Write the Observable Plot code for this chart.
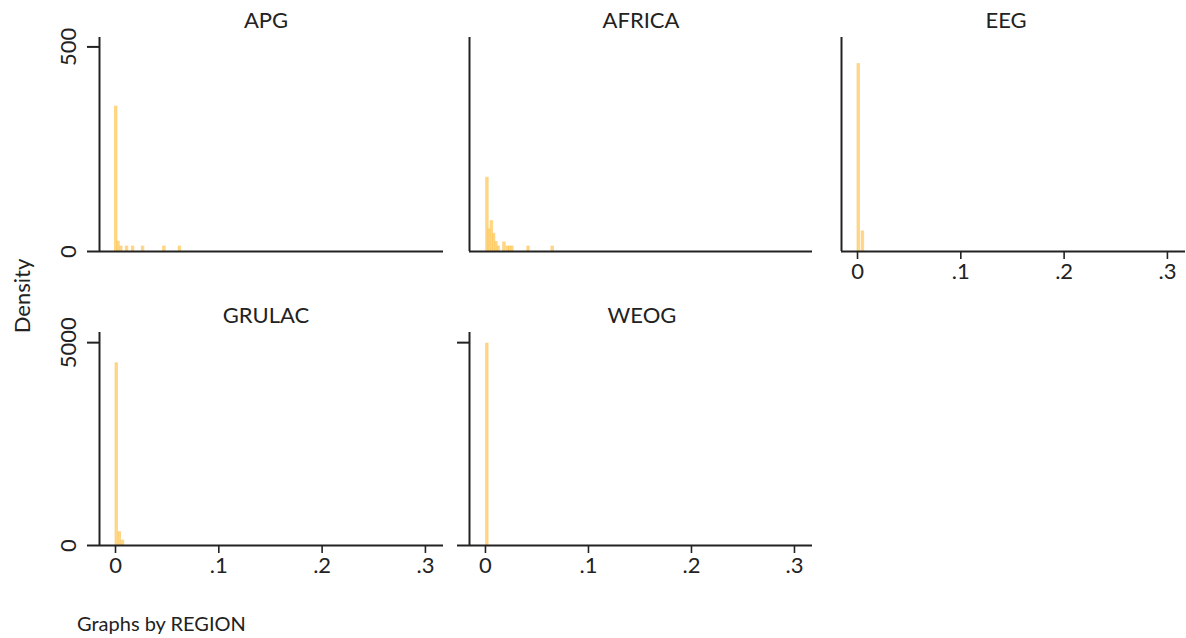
<!DOCTYPE html>
<html><head><meta charset="utf-8">
<script src="https://cdn.jsdelivr.net/npm/d3@7"></script>
<script src="https://cdn.jsdelivr.net/npm/@observablehq/plot@0.6"></script>
<style>
body{margin:0;background:#fff;}
#chart{position:relative;width:1186px;height:638px;overflow:hidden;font-family:Lato,"Open Sans",sans-serif;color:#222;}
.panel{position:absolute;}
.ptitle{position:absolute;font-size:22px;line-height:22px;transform:translateX(-50%);white-space:nowrap;}
.ylab{position:absolute;font-size:22px;line-height:22px;white-space:nowrap;transform:translate(-50%,-50%) rotate(-90deg);}
.note{position:absolute;font-size:20px;line-height:20px;white-space:nowrap;}
</style></head><body><div id="chart"></div>
<script>
// ---- data (bin midpoints and densities) ----
const regions = ["APG", "AFRICA", "EEG", "GRULAC", "WEOG"];
const apgMid     = [0.0007, 0.0029, 0.0056, 0.0112, 0.0170, 0.0267, 0.0473, 0.0623];
const apgDensity = [354, 24, 12, 12, 12, 12, 12, 12];
const africaMid     = [0.0019, 0.0038, 0.0062, 0.0084, 0.0106, 0.0128, 0.0184, 0.0217, 0.0239, 0.0261, 0.0418, 0.0653];
const africaDensity = [180, 54, 74, 43, 23, 12, 22, 12, 12, 12, 12, 12];
const eegMid     = [0.0012, 0.0052];
const eegDensity = [458, 49];
const grulacMid     = [0.0012, 0.0041, 0.0072];
const grulacDensity = [4490, 328, 123];
const weogMid     = [0.0018];
const weogDensity = [4975];
const binWidth = 0.0024;
const xTicks = [0, 0.1, 0.2, 0.3];
const xTickLabels = ["0", ".1", ".2", ".3"];
const yTicksTop = [0, 500];
const yTicksBottom = [0, 5000];
const xDomain = [-0.0155, 0.3175];
const yDomainTop = [0, 523];
const yDomainBottom = [0, 5250];
const yTitle = "Density";
const note = "Graphs by REGION";

const mids = [apgMid, africaMid, eegMid, grulacMid, weogMid];
const dens = [apgDensity, africaDensity, eegDensity, grulacDensity, weogDensity];

// ---- layout ----
const panels = [
  {left: 99,  top: 37,  w: 344, h: 214, yDomain: yDomainTop,    yTicks: yTicksTop,    yAxis: "labels", xAxis: false, tx: 266},
  {left: 469, top: 37,  w: 343, h: 214, yDomain: yDomainTop,    yTicks: yTicksTop,    yAxis: "none",   xAxis: false, tx: 641},
  {left: 841, top: 37,  w: 344, h: 214, yDomain: yDomainTop,    yTicks: yTicksTop,    yAxis: "none",   xAxis: true,  tx: 1006},
  {left: 99,  top: 332, w: 344, h: 213, yDomain: yDomainBottom, yTicks: yTicksBottom, yAxis: "labels", xAxis: true,  tx: 266},
  {left: 469, top: 332, w: 343, h: 213, yDomain: yDomainBottom, yTicks: yTicksBottom, yAxis: "ticks",  xAxis: true,  tx: 642}
];
const titleTops = [9, 9, 9, 304, 304];

const chart = document.getElementById("chart");
const ML = 70, MR = 1, MT = 2, MB = 42;
const ink = "#222";
const barColor = "#FFC85A";

regions.forEach((name, i) => {
  const p = panels[i];
  const data = mids[i].map((m, j) => ({region: name, x1: m - binWidth / 2, x2: m + binWidth / 2, density: dens[i][j]}));
  const marks = [
    Plot.rect(data, {x1: "x1", x2: "x2", y1: 0, y2: "density", fill: barColor, fillOpacity: 0.7, stroke: barColor, strokeOpacity: 0.6, strokeWidth: 1}),
    Plot.ruleY([0], {stroke: ink, strokeWidth: 2}),
    Plot.ruleX([xDomain[0]], {stroke: ink, strokeWidth: 2})
  ];
  if (p.yAxis !== "none") {
    marks.push(Plot.axisY(p.yTicks, {
      label: null,
      tickSize: 12, tickRotate: -90, tickPadding: 12, fontSize: 22,
      stroke: ink, strokeWidth: 2,
      tickFormat: p.yAxis === "labels" ? (d => String(d)) : (() => "")
    }));
  }
  if (p.xAxis) {
    marks.push(Plot.axisX(xTicks, {
      label: null,
      tickSize: 8, tickPadding: 4, fontSize: 22, stroke: ink, strokeWidth: 1.6,
      tickFormat: d => xTickLabels[xTicks.indexOf(d)]
    }));
  }
  const svg = Plot.plot({
    width: p.w + ML + MR,
    height: p.h + MT + MB,
    marginLeft: ML, marginRight: MR, marginTop: MT, marginBottom: MB,
    x: {domain: xDomain, axis: null},
    y: {domain: p.yDomain, axis: null},
    style: {fontFamily: "Lato, 'Open Sans', sans-serif", color: ink, background: "transparent", overflow: "visible"},
    marks
  });
  svg.classList.add("panel");
  svg.style.left = (p.left - ML) + "px";
  svg.style.top = (p.top - MT) + "px";
  chart.appendChild(svg);

  const t = document.createElement("div");
  t.className = "ptitle";
  t.textContent = name;
  t.style.left = p.tx + "px";
  t.style.top = titleTops[i] + "px";
  chart.appendChild(t);
});

const yl = document.createElement("div");
yl.className = "ylab";
yl.textContent = yTitle;
yl.style.left = "22px";
yl.style.top = "296px";
chart.appendChild(yl);

const n = document.createElement("div");
n.className = "note";
n.textContent = note;
n.style.left = "77px";
n.style.top = "613px";
chart.appendChild(n);
</script></body></html>
